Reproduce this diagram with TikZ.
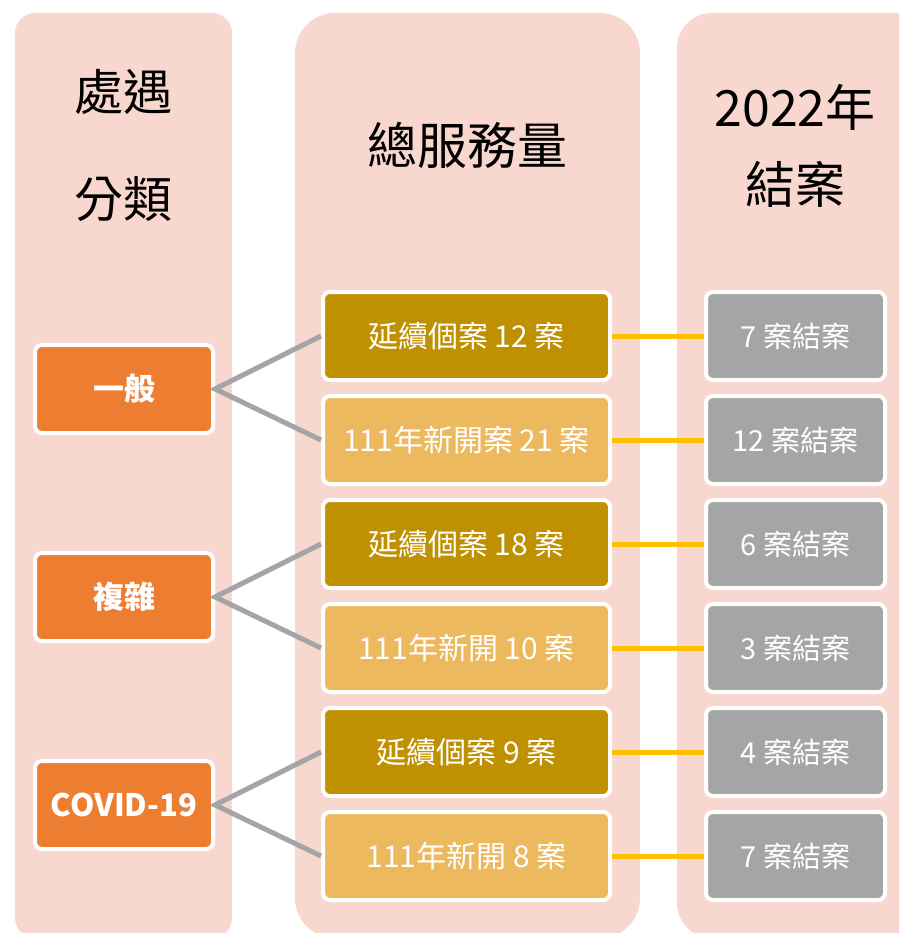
\documentclass[tikz,border=0pt]{standalone}
\usepackage{fontspec}
\setmainfont{Noto Sans CJK TC}
\usetikzlibrary{positioning}

\definecolor{colbg}{HTML}{F8D7CE}
\definecolor{kindorange}{HTML}{ED7D31}
\definecolor{golddark}{HTML}{BF9000}
\definecolor{goldlight}{HTML}{EDB95E}
\definecolor{closegray}{HTML}{A5A5A5}
\definecolor{linkyellow}{HTML}{FFC000}

\def\rowgap{12pt}
\def\colgap{92pt}

\begin{document}
\begin{tikzpicture}[x=1pt,y=-1pt]
    \tikzstyle{head}=[align=center,font=\fontsize{50}{52}\selectfont]
    \tikzstyle{box}=[draw=white,line width=4pt,rounded corners=7pt,text=white,inner sep=0pt]
    \tikzstyle{kind}=[box,fill=kindorange,minimum width=178pt,minimum height=88pt,font=\bfseries\fontsize{31}{33}\selectfont]
    \tikzstyle{cont}=[box,fill=golddark,minimum width=287pt,minimum height=88pt,font=\fontsize{30}{32}\selectfont]
    \tikzstyle{newc}=[cont,fill=goldlight]
    \tikzstyle{closed}=[box,fill=closegray,minimum width=179pt,minimum height=88pt,font=\fontsize{29}{31}\selectfont]
    \tikzstyle{split}=[draw=closegray,line width=5pt]
    \tikzstyle{link}=[draw=linkyellow,line width=5pt]

    \useasboundingbox (0,0) rectangle (899,933);
    \clip (0,0) rectangle (899,933);

    % column backgrounds
    \fill[colbg,rounded corners=20pt] (15,13) rectangle (232,938);
    \fill[colbg,rounded corners=40pt] (295,13) rectangle (640,938);
    \fill[colbg,rounded corners=35pt] (677,13) rectangle (940,938);

    \node[head,font=\fontsize{49}{107}\selectfont] (h1) at (123.5,146) {處遇\\分類};
    \node[head] (h2) at (467,145) {總服務量};
    \node[head,font=\fontsize{50}{77}\selectfont] (h3) at (795,146) {2022年\\結案};

    % categories
    \node[kind] (k1) at (124,389) {一般};
    \node[kind] (k2) at (124,597) {複雜};
    \node[kind] (k3) at (124,805) {COVID-19};

    % total service
    \node[cont] (m1) at (466.5,336) {延續個案 12 案};
    \node[newc,below=\rowgap of m1] (m2) {111年新開案 21 案};
    \node[cont,below=\rowgap of m2] (m3) {延續個案 18 案};
    \node[newc,below=\rowgap of m3] (m4) {111年新開 10 案};
    \node[cont,below=\rowgap of m4] (m5) {延續個案 9 案};
    \node[newc,below=\rowgap of m5] (m6) {111年新開 8 案};

    % closed in 2022
    \node[closed,right=\colgap of m1] (c1) {7 案結案};
    \node[closed,right=\colgap of m2] (c2) {12 案結案};
    \node[closed,right=\colgap of m3] (c3) {6 案結案};
    \node[closed,right=\colgap of m4] (c4) {3 案結案};
    \node[closed,right=\colgap of m5] (c5) {4 案結案};
    \node[closed,right=\colgap of m6] (c6) {7 案結案};

    \draw[split] (m1.west) -- (k1.east) -- (m2.west);
    \draw[split] (m3.west) -- (k2.east) -- (m4.west);
    \draw[split] (m5.west) -- (k3.east) -- (m6.west);

    \draw[link] (m1) -- (c1);
    \draw[link] (m2) -- (c2);
    \draw[link] (m3) -- (c3);
    \draw[link] (m4) -- (c4);
    \draw[link] (m5) -- (c5);
    \draw[link] (m6) -- (c6);
\end{tikzpicture}
\end{document}
